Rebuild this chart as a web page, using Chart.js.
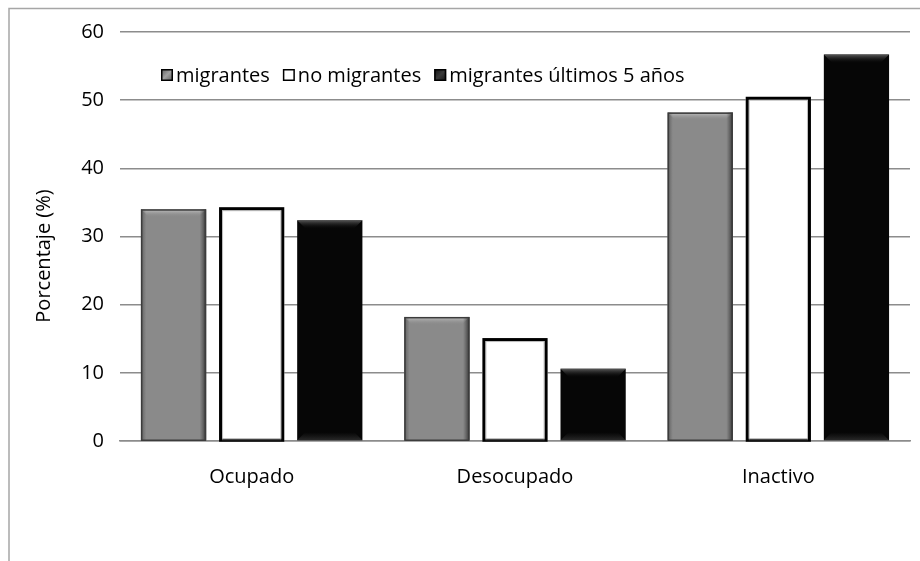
<!DOCTYPE html>
<html>
<head>
<meta charset="utf-8">
<script src="https://cdn.jsdelivr.net/npm/chart.js@4.4.1/dist/chart.umd.min.js"></script>
<style>
  html, body { margin: 0; padding: 0; background: #fff; }
  #wrap { position: relative; width: 920px; height: 561px; }
</style>
</head>
<body>
<div id="wrap"><canvas id="c" width="920" height="561"></canvas></div>
<script>
// Condición de actividad según condición migratoria
const categories = ['Ocupado', 'Desocupado', 'Inactivo'];
const migrantes = [34.0, 18.2, 48.2];
const noMigrantes = [34.3, 15.1, 50.5];
const migrantesUltimos5 = [32.4, 10.6, 56.7];
const yTicks = [0, 10, 20, 30, 40, 50, 60];
const seriesNames = ['migrantes', 'no migrantes', 'migrantes últimos 5 años'];
const yTitle = 'Porcentaje (%)';

const FONT = '"Open Sans", Lato, sans-serif';
const FSIZE = 20;

const fills = ['#8a8a8a', '#ffffff', '#060606'];

// Bevelled bar styling drawn on top of each bar element
const bevelPlugin = {
  id: 'bevel',
  afterDatasetsDraw(chart) {
    const ctx = chart.ctx;
    chart.data.datasets.forEach((ds, di) => {
      const meta = chart.getDatasetMeta(di);
      meta.data.forEach(bar => {
        const p = bar.getProps(['x', 'y', 'base', 'width'], true);
        const l = p.x - p.width / 2, r = p.x + p.width / 2, t = p.y, b = p.base;
        ctx.save();
        if (di === 0) {
          let g = ctx.createLinearGradient(0, t, 0, t + 8);
          g.addColorStop(0, '#c4c4c4');
          g.addColorStop(1, 'rgba(138,138,138,0)');
          ctx.fillStyle = g;
          ctx.beginPath();
          ctx.moveTo(l, t); ctx.lineTo(r, t); ctx.lineTo(r - 8, t + 8); ctx.lineTo(l + 8, t + 8); ctx.closePath();
          ctx.fill();
          g = ctx.createLinearGradient(l, 0, r, 0);
          g.addColorStop(0, 'rgba(60,60,60,0.55)');
          g.addColorStop(0.08, 'rgba(60,60,60,0)');
          g.addColorStop(0.9, 'rgba(60,60,60,0)');
          g.addColorStop(1, 'rgba(30,30,30,0.8)');
          ctx.fillStyle = g;
          ctx.fillRect(l, t, r - l, b - t);
          ctx.strokeStyle = '#3c3c3c';
          ctx.lineWidth = 1.5;
          ctx.strokeRect(l + 0.75, t + 0.75, r - l - 1.5, b - t - 0.75);
        } else if (di === 1) {
          ctx.strokeStyle = '#000';
          ctx.lineWidth = 3;
          ctx.strokeRect(l + 1.5, t + 1.5, r - l - 3, b - t - 1.5);
          ctx.strokeStyle = 'rgba(150,150,150,0.6)';
          ctx.lineWidth = 1;
          ctx.strokeRect(l + 3.5, t + 3.5, r - l - 7, b - t - 4);
        } else {
          let g = ctx.createLinearGradient(0, t, 0, t + 9);
          g.addColorStop(0, '#5a5a5a');
          g.addColorStop(1, 'rgba(6,6,6,0)');
          ctx.fillStyle = g;
          ctx.beginPath();
          ctx.moveTo(l, t); ctx.lineTo(r, t); ctx.lineTo(r - 9, t + 9); ctx.lineTo(l + 9, t + 9); ctx.closePath();
          ctx.fill();
          g = ctx.createLinearGradient(0, b - 8, 0, b);
          g.addColorStop(0, 'rgba(40,40,40,0)');
          g.addColorStop(1, 'rgba(50,50,50,0.8)');
          ctx.fillStyle = g;
          ctx.beginPath();
          ctx.moveTo(l + 8, b - 8); ctx.lineTo(r - 8, b - 8); ctx.lineTo(r, b); ctx.lineTo(l, b); ctx.closePath();
          ctx.fill();
        }
        ctx.restore();
      });
    });
  }
};

// Frame, legend inside the plot and the rotated axis title
const decorPlugin = {
  id: 'decor',
  beforeDraw(chart) {
    const ctx = chart.ctx;
    ctx.save();
    ctx.strokeStyle = '#a6a6a6';
    ctx.lineWidth = 1.5;
    ctx.beginPath();
    ctx.moveTo(9, 561); ctx.lineTo(9, 8.5); ctx.lineTo(920, 8.5);
    ctx.stroke();
    ctx.restore();
  },
  afterDraw(chart) {
    const ctx = chart.ctx;
    const area = chart.chartArea;
    ctx.save();
    ctx.font = FSIZE + 'px ' + FONT;
    ctx.textBaseline = 'middle';
    ctx.fillStyle = '#000';
    let x = area.left + 41;
    const y = area.top + 43;
    seriesNames.forEach((name, i) => {
      const box = 12;
      let g = ctx.createLinearGradient(x, y - box / 2, x + box, y + box / 2);
      if (i === 0) { g.addColorStop(0, '#5a5a5a'); g.addColorStop(0.5, '#a0a0a0'); g.addColorStop(1, '#5a5a5a'); }
      else if (i === 1) { g.addColorStop(0, '#ffffff'); g.addColorStop(1, '#ffffff'); }
      else { g.addColorStop(0, '#111'); g.addColorStop(0.5, '#3a3a3a'); g.addColorStop(1, '#111'); }
      ctx.fillStyle = g;
      ctx.fillRect(x, y - box / 2, box, box);
      ctx.strokeStyle = '#000';
      ctx.lineWidth = 1.5;
      ctx.strokeRect(x + 0.75, y - box / 2 + 0.75, box - 1.5, box - 1.5);
      ctx.fillStyle = '#000';
      ctx.fillText(name, x + box + 3, y + 1);
      x += box + 3 + ctx.measureText(name).width + 13;
    });
    ctx.translate(44, 256);
    ctx.rotate(-Math.PI / 2);
    ctx.textAlign = 'center';
    ctx.fillText(yTitle, 0, 0);
    ctx.restore();
  }
};

new Chart(document.getElementById('c'), {
  type: 'bar',
  data: {
    labels: categories,
    datasets: [
      { label: seriesNames[0], data: migrantes, backgroundColor: fills[0], borderWidth: 0 },
      { label: seriesNames[1], data: noMigrantes, backgroundColor: fills[1], borderWidth: 0 },
      { label: seriesNames[2], data: migrantesUltimos5, backgroundColor: fills[2], borderWidth: 0 }
    ]
  },
  options: {
    responsive: false,
    animation: false,
    devicePixelRatio: 1,
    categoryPercentage: 0.89,
    barPercentage: 0.835,
    layout: { padding: { left: 10, right: 10, top: 32, bottom: 0 } },
    plugins: { legend: { display: false }, tooltip: { enabled: false } },
    scales: {
      x: {
        grid: { display: false, drawTicks: false },
        border: { display: true, color: '#8c8c8c', width: 1.5 },
        ticks: { color: '#000', font: { family: FONT, size: FSIZE }, padding: 24, maxRotation: 0 },
        afterFit(scale) { scale.height = 120; }
      },
      y: {
        min: 0, max: 60,
        afterBuildTicks(scale) { scale.ticks = yTicks.map(v => ({ value: v })); },
        grid: { color: '#8c8c8c', lineWidth: 1.5, drawTicks: false },
        border: { display: false },
        ticks: { color: '#000', font: { family: FONT, size: FSIZE }, padding: 16 },
        afterFit(scale) { scale.width = 110; }
      }
    }
  },
  plugins: [bevelPlugin, decorPlugin]
});
</script>
</body>
</html>
